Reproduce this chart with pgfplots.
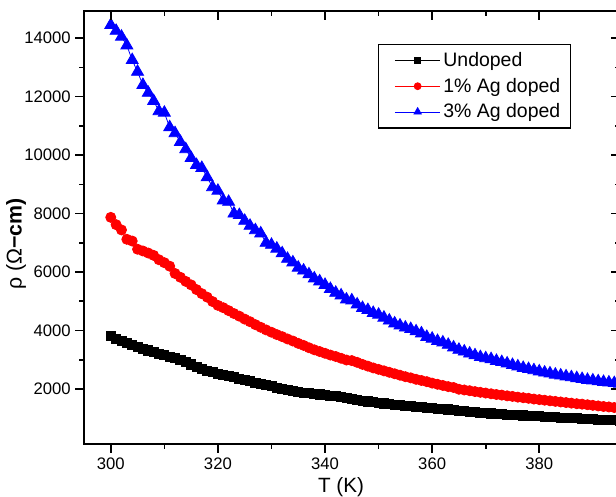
\documentclass[border=0pt]{standalone}
\usepackage{fontspec}
\setmainfont{Liberation Sans}
\usepackage{pgfplots}
\pgfplotsset{compat=1.18}

\pgfplotsset{
  rhobase/.style={
    scale only axis, width=401.7pt, height=324.9pt,
    xmin=295, xmax=395, ymin=110, ymax=14930,
    xtick={300,320,...,380}, ytick={2000,4000,...,14000},
    minor x tick num=1, minor y tick num=1,
    scaled y ticks=false, scaled x ticks=false,
    axis line style={line width=1.4pt},
    tick style={line width=1.2pt, black},
    major tick length=6.5pt, minor tick length=3.5pt,
    /pgf/number format/1000 sep={},
    /pgf/number format/assume math mode=true,
    tick label style={font=\fontsize{12.5}{14}\selectfont},
  },
}

\begin{document}
\begin{tikzpicture}
\begin{axis}[
  rhobase,
  tick pos=left, tick align=outside,
  xlabel={T (K)}, ylabel={ρ (Ω\textbf{−cm)}},
  xlabel style={font=\fontsize{15.5}{17}\selectfont,
    at={(rel axis cs:0.48,-0.0986)}, anchor=center},
  ylabel style={font=\fontsize{16}{18}\selectfont,
    at={(rel axis cs:-0.0996,0.462)}, anchor=south},
  legend style={at={(0.549,0.924)}, anchor=north west, draw=black,
    line width=0.8pt, font=\fontsize{14.6}{17}\selectfont,
    inner xsep=6pt, inner ysep=4pt, row sep=3.2pt, cells={anchor=west}},
  legend image code/.code={
    \path (0pt,0pt);
    \draw[mark repeat=2, mark phase=2]
      plot coordinates {(6pt,0pt) (23pt,0pt) (40pt,0pt)};},
]
\coordinate (SW) at (rel axis cs:0,0);
\addplot[black, line width=0.6pt, mark=square*, mark size=3.4pt,
  legend image post style={mark size=2.4pt}] table {
300 3800
301 3700
302 3630
303 3560
304 3500
305 3440
306 3380
307 3320
308 3260
309 3210
310 3160
311 3110
312 3060
313 3000
314 2930
315 2840
316 2760
317 2690
318 2630
319 2580
320 2530
321 2480
322 2440
323 2400
324 2350
325 2310
326 2260
327 2220
328 2170
329 2130
330 2090
331 2050
332 2010
333 1970
334 1940
335 1910
336 1880
337 1860
338 1840
339 1815
340 1790
341 1770
342 1750
343 1725
344 1705
345 1660
346 1630
347 1600
348 1575
349 1550
350 1530
351 1505
352 1485
353 1465
354 1445
355 1425
356 1405
357 1390
358 1375
359 1360
360 1345
361 1330
362 1315
363 1300
364 1285
365 1255
366 1240
367 1225
368 1210
369 1195
370 1180
371 1165
372 1150
373 1140
374 1125
375 1115
376 1105
377 1095
378 1085
379 1075
380 1065
381 1055
382 1045
383 1035
384 1025
385 1015
386 1005
387 995
388 985
389 975
390 965
391 955
392 948
393 940
394 932
395 925
};
\addlegendentry{Undoped}
\addplot[red, line width=0.6pt, mark=*, mark size=3.8pt,
  legend image post style={mark size=2.6pt}] table {
300 7870
301 7620
302 7440
303 7120
304 7060
305 6780
306 6720
307 6650
308 6570
309 6420
310 6320
311 6200
312 5950
313 5820
314 5680
315 5560
316 5400
317 5260
318 5140
319 4990
320 4860
321 4780
322 4680
323 4580
324 4490
325 4390
326 4300
327 4200
328 4110
329 4020
330 3940
331 3860
332 3790
333 3710
334 3640
335 3560
336 3490
337 3410
338 3340
339 3280
340 3220
341 3160
342 3110
343 3050
344 2990
345 2970
346 2910
347 2840
348 2780
349 2720
350 2670
351 2620
352 2570
353 2520
354 2470
355 2420
356 2380
357 2330
358 2290
359 2250
360 2200
361 2160
362 2120
363 2080
364 2050
365 1990
366 1965
367 1940
368 1910
369 1885
370 1860
371 1835
372 1810
373 1790
374 1765
375 1745
376 1720
377 1700
378 1680
379 1655
380 1635
381 1615
382 1595
383 1575
384 1555
385 1535
386 1515
387 1495
388 1480
389 1460
390 1440
391 1420
392 1400
393 1385
394 1365
395 1350
};
\addlegendentry{1\% Ag doped}
\addplot[blue, line width=0.6pt, mark=triangle*, mark size=5.2pt,
  legend image post style={mark size=3.2pt}] table {
300 14450
301 14250
302 14050
303 13750
304 13250
305 12850
306 12400
307 12130
308 11850
309 11500
310 11450
311 10950
312 10750
313 10450
314 10200
315 9900
316 9660
317 9560
318 9240
319 8900
320 8780
321 8450
322 8400
323 8000
324 7950
325 7750
326 7580
327 7430
328 7320
329 7000
330 6930
331 6800
332 6640
333 6450
334 6330
335 6150
336 6050
337 5920
338 5780
339 5680
340 5560
341 5420
342 5290
343 5200
344 5060
345 5030
346 4890
347 4770
348 4700
349 4600
350 4540
351 4440
352 4340
353 4240
354 4170
355 4100
356 4050
357 3970
358 3900
359 3780
360 3720
361 3640
362 3590
363 3510
364 3420
365 3340
366 3280
367 3210
368 3150
369 3090
370 3050
371 3020
372 2960
373 2920
374 2870
375 2820
376 2770
377 2720
378 2680
379 2640
380 2600
381 2560
382 2530
383 2490
384 2460
385 2430
386 2400
387 2370
388 2340
389 2310
390 2290
391 2260
392 2240
393 2220
394 2200
395 2180
};
\addlegendentry{3\% Ag doped}
\end{axis}
\begin{axis}[
  rhobase,
  tick pos=right, tick align=inside,
  xticklabels={}, yticklabels={},
]
\end{axis}
\pgfresetboundingbox
\path[use as bounding box] ([shift={(-63pt,-39.5pt)}]SW) rectangle ([shift={(399pt,333.15pt)}]SW);
\end{tikzpicture}
\end{document}
